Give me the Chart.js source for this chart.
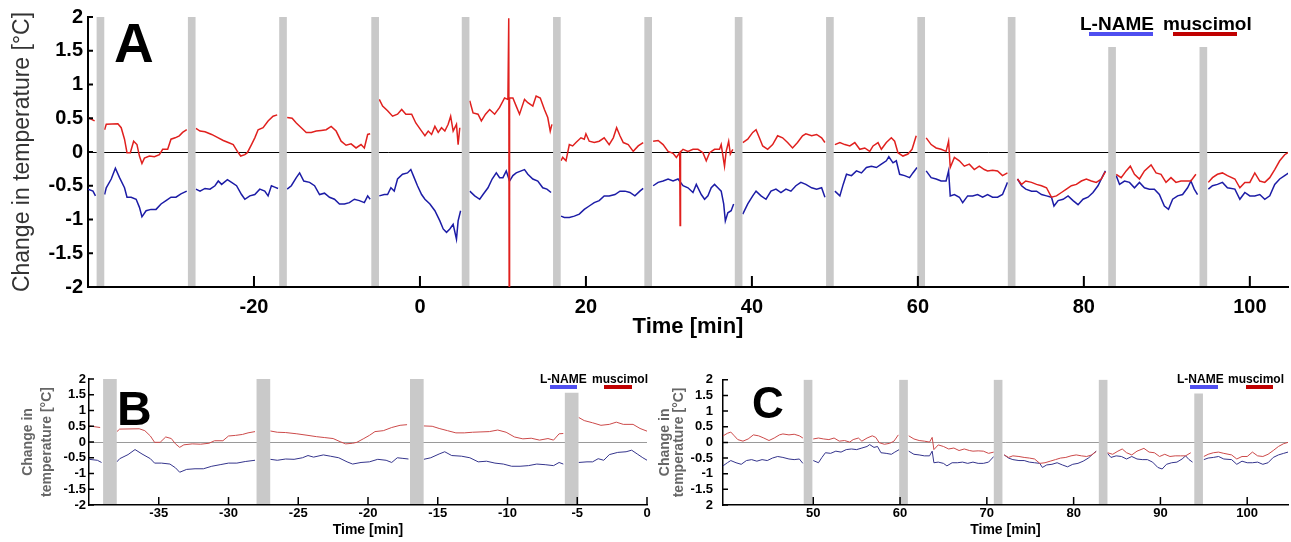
<!DOCTYPE html>
<html lang="en">
<head>
  <meta charset="UTF-8" />
  <title>Change in temperature - L-NAME / muscimol</title>
  <script src="https://cdn.jsdelivr.net/npm/chart.js"></script>
  <style>
    body { margin: 0; background: #fff; width: 1291px; height: 542px; overflow: hidden; position: relative; }
    .panel { position: absolute; }
    #boxA { left: 0; top: 0; width: 1291px; height: 345px; }
    #boxB { left: 0; top: 362px; width: 655px; height: 180px; }
    #boxC { left: 655px; top: 362px; width: 636px; height: 180px; }
  </style>
</head>
<body>
  <div class="panel" id="boxA"><canvas id="panelA"></canvas></div>
  <div class="panel" id="boxB"><canvas id="panelB"></canvas></div>
  <div class="panel" id="boxC"><canvas id="panelC"></canvas></div>

  <script>
    // values (minutes, degrees C); null = break under a grey band
    const seriesNames = ['L-NAME', 'muscimol'];

    const muscimolTime = [
      -40.0, -39.2, -38.5, -38.0, -37.8, -36.4, -36.0, -35.6, -35.3, -34.9,
      -34.5, -34.1, -33.8, -33.5, -33.2, -32.6, -32.0, -31.4, -31.0, -30.4,
      -30.0, -29.5, -29.0, -28.6, -28.1, -27.5, -27.0, -26.5, -25.9, -25.1,
      -24.3, -23.7, -23.1, -22.5, -22.0, -21.6, -21.1, -20.8, -20.3, -19.9,
      -19.5, -18.9, -18.3, -17.7, -17.2, -16.5, -16.0, -15.4, -14.9, -14.3,
      -13.7, -13.1, -12.5, -11.9, -11.3, -10.7, -10.1, -9.5, -8.9, -8.3,
      -7.7, -7.1, -6.7, -6.3, -6.0, -5.4, -4.9, -4.5, -3.9, -3.3,
      -2.7, -2.2, -1.7, -1.0, -0.5, 0.2, 0.6, 1.0, 1.4, 1.8,
      2.2, 2.6, 3.0, 3.4, 3.7, 4.0, 4.4, 4.6, 4.8, 5.5,
      6.0, 6.4, 7.0, 7.4, 7.9, 8.4, 9.0, 9.6, 10.2, 10.6,
      10.7, 10.75, 10.8, 11.2, 11.6, 12.0, 12.6, 13.0, 13.6, 14.0,
      14.5, 15.0, 15.4, 15.7, 15.9, 16.5, 17.0, 17.2, 17.6, 18.0,
      18.4, 18.8, 19.4, 19.8, 20.0, 20.4, 21.0, 21.6, 22.2, 22.8,
      23.3, 23.7, 24.1, 24.5, 25.1, 25.7, 26.3, 26.9, 27.5, 28.1,
      28.7, 29.3, 29.9, 30.5, 30.9, 31.3, 31.35, 31.4, 31.7, 32.3,
      32.9, 33.5, 34.1, 34.5, 34.9, 35.5, 36.1, 36.3, 36.7, 36.9,
      37.2, 37.4, 37.7, 38.4, 38.9, 39.5, 40.1, 40.5, 40.9, 41.3,
      41.9, 42.5, 43.1, 43.7, 44.3, 44.9, 45.5, 46.1, 46.5, 47.2,
      47.8, 48.4, 48.8, 49.4, 50.0, 50.6, 51.2, 51.8, 52.4, 53.0,
      53.6, 54.2, 54.6, 55.2, 55.6, 56.2, 56.8, 57.2, 57.6, 58.2,
      58.8, 59.3, 59.8, 60.4, 61.0, 61.6, 62.2, 62.8, 63.4, 63.7,
      63.9, 64.4, 65.0, 65.6, 66.2, 66.8, 67.4, 68.0, 68.4, 69.0,
      69.6, 70.2, 70.8, 71.3, 72.0, 72.5, 73.0, 73.7, 74.3, 74.9,
      75.5, 76.1, 76.7, 77.3, 77.9, 78.5, 79.1, 79.7, 80.3, 80.9,
      81.5, 82.1, 82.6, 83.4, 83.9, 84.5, 85.1, 85.6, 86.1, 86.7,
      87.3, 88.1, 88.7, 89.3, 89.9, 90.5, 91.1, 91.7, 92.3, 92.9,
      93.5, 94.4, 95.0, 95.5, 96.1, 96.7, 97.3, 98.2, 98.8, 99.4,
      100.0, 100.6, 101.2, 101.8, 102.4, 103.0, 103.6, 104.2, 104.7
    ];
    const muscimolTemp = [
      0.51, 0.46, null, 0.33, 0.41, 0.42, 0.36, 0.19, -0.01, -0.01,
      0.16, 0.11, -0.06, -0.17, -0.09, -0.06, -0.07, -0.04, 0.04, 0.04,
      0.19, 0.21, 0.24, 0.29, 0.33, null, 0.35, 0.31, 0.30, 0.26,
      0.21, 0.17, 0.14, 0.11, 0.01, -0.06, -0.04, -0.01, 0.11, 0.21,
      0.33, 0.36, 0.46, 0.53, 0.55, null, 0.51, 0.50, 0.43, 0.36,
      0.29, 0.29, 0.31, 0.32, 0.33, 0.38, 0.31, 0.16, 0.10, 0.12,
      0.06, 0.11, 0.06, 0.26, 0.27, null, 0.78, 0.68, 0.61, 0.53,
      0.56, 0.63, 0.56, 0.56, 0.43, 0.31, 0.24, 0.31, 0.26, 0.38,
      0.29, 0.36, 0.31, 0.41, 0.53, 0.31, 0.41, 0.11, 0.36, null,
      0.76, 0.58, 0.56, 0.46, 0.56, 0.63, 0.56, 0.66, 0.80, 0.78,
      1.98, -2.0, 0.80, 0.80, 0.68, 0.56, 0.78, 0.73, 0.68, 0.83,
      0.80, 0.63, 0.51, 0.31, 0.41, null, -0.13, -0.08, -0.13, 0.11,
      0.09, 0.14, 0.21, 0.19, 0.27, 0.16, 0.14, 0.16, 0.21, 0.11,
      0.21, 0.36, 0.24, 0.14, 0.11, 0.01, 0.09, 0.14, null, 0.16,
      0.17, 0.11, 0.01, -0.02, -0.08, -0.01, -1.09, 0.00, 0.04, 0.01,
      0.04, 0.04, -0.01, -0.13, -0.01, 0.04, 0.04, 0.11, -0.21, 0.01,
      0.16, -0.03, 0.04, null, 0.14, 0.19, 0.29, 0.33, 0.21, 0.09,
      0.04, 0.11, 0.24, 0.21, 0.14, 0.06, 0.14, 0.24, 0.27, 0.24,
      0.26, 0.21, 0.14, null, 0.11, 0.14, 0.11, 0.09, 0.14, 0.04,
      0.06, 0.01, 0.09, 0.14, 0.04, 0.14, 0.21, 0.16, -0.01, -0.06,
      -0.03, 0.04, 0.24, null, 0.21, 0.11, 0.06, 0.04, 0.01, 0.16,
      -0.23, -0.08, -0.13, -0.21, -0.18, -0.26, -0.21, -0.26, -0.28, -0.27,
      -0.28, -0.35, -0.31, null, -0.40, -0.48, -0.43, -0.45, -0.48, -0.50,
      -0.53, -0.67, -0.65, -0.60, -0.55, -0.50, -0.48, -0.43, -0.40, -0.43,
      -0.45, -0.40, -0.29, null, -0.33, -0.38, -0.28, -0.21, -0.33, -0.40,
      -0.28, -0.19, -0.31, -0.33, -0.45, -0.38, -0.45, -0.43, -0.43, -0.43,
      -0.33, null, -0.45, -0.38, -0.33, -0.31, -0.35, -0.40, -0.53, -0.45,
      -0.45, -0.31, -0.43, -0.45, -0.38, -0.26, -0.13, -0.04, 0.00
    ];

    const lnameTime = [
      -40.0, -39.4, -39.1, -38.5, -38.0, -37.8, -37.2, -36.7, -36.2, -35.6,
      -35.3, -34.8, -34.2, -33.8, -33.5, -33.0, -32.4, -31.8, -31.2, -30.6,
      -30.0, -29.4, -28.8, -28.1, -27.5, -27.0, -26.5, -25.9, -25.3, -24.7,
      -24.3, -23.9, -23.2, -22.7, -22.1, -21.5, -21.1, -20.5, -19.9, -19.3,
      -18.7, -18.3, -17.9, -17.5, -17.1, -16.5, -16.0, -15.5, -14.9, -14.5,
      -14.0, -13.3, -12.7, -12.1, -11.5, -10.9, -10.3, -9.7, -9.1, -8.5,
      -7.9, -7.3, -6.7, -6.3, -6.0, -5.4, -4.9, -4.3, -3.9, -3.5,
      -3.1, -2.7, -2.1, -1.5, -1.1, -0.7, -0.3, 0.2, 0.6, 1.2,
      1.8, 2.4, 2.8, 3.2, 3.6, 4.0, 4.4, 4.6, 4.9, 5.5,
      6.0, 6.6, 7.2, 7.6, 8.2, 8.7, 9.2, 9.6, 10.0, 10.4,
      10.8, 11.2, 11.6, 12.2, 12.6, 13.0, 13.6, 14.2, 14.8, 15.3,
      15.8, 16.5, 17.0, 17.4, 18.0, 18.6, 19.2, 19.8, 20.4, 21.0,
      21.6, 22.2, 22.8, 23.5, 24.1, 24.7, 25.3, 25.9, 26.5, 26.9,
      27.5, 28.1, 28.7, 29.3, 29.9, 30.5, 31.1, 31.7, 32.3, 32.9,
      33.3, 33.9, 34.3, 34.7, 35.1, 35.5, 35.9, 36.3, 36.6, 36.8,
      37.1, 37.5, 37.8, 38.4, 38.9, 39.5, 40.1, 40.5, 41.1, 41.7,
      42.3, 42.9, 43.5, 44.1, 44.7, 45.3, 45.9, 46.5, 47.2, 47.8,
      48.4, 48.8, 49.4, 50.0, 50.6, 51.0, 51.4, 52.0, 52.6, 53.2,
      53.8, 54.4, 55.0, 55.6, 56.2, 56.5, 57.0, 57.4, 57.8, 58.4,
      59.0, 59.4, 59.9, 60.4, 61.0, 61.6, 62.2, 62.8, 63.4, 63.7,
      63.9, 64.4, 65.0, 65.4, 66.0, 66.6, 67.2, 67.8, 68.4, 69.0,
      69.6, 70.2, 70.8, 71.3, 72.0, 72.5, 73.0, 73.7, 74.3, 74.9,
      75.5, 76.1, 76.4, 76.9, 77.5, 78.1, 78.7, 79.3, 79.9, 80.5,
      81.1, 81.7, 82.3, 82.6, 83.4, 83.9, 84.3, 84.9, 85.5, 86.1,
      86.7, 87.3, 87.9, 88.5, 89.1, 89.7, 90.2, 90.7, 91.3, 91.9,
      92.5, 92.9, 93.3, 93.7, 94.4, 95.0, 95.5, 96.1, 96.7, 97.3,
      98.2, 98.8, 99.4, 100.0, 100.6, 101.2, 101.8, 102.4, 103.0, 103.6,
      104.2, 104.7
    ];
    const lnameTemp = [
      -0.55, -0.58, -0.65, null, -0.63, -0.53, -0.40, -0.24, -0.38, -0.53,
      -0.67, -0.67, -0.70, -0.82, -0.96, -0.87, -0.85, -0.85, -0.77, -0.72,
      -0.67, -0.67, -0.62, -0.58, null, -0.55, -0.58, -0.54, -0.55, -0.50,
      -0.43, -0.48, -0.41, -0.45, -0.50, -0.63, -0.70, -0.65, -0.63, -0.55,
      -0.58, -0.65, -0.50, -0.52, -0.54, null, -0.55, -0.50, -0.38, -0.31,
      -0.43, -0.45, -0.50, -0.63, -0.61, -0.67, -0.70, -0.77, -0.77, -0.75,
      -0.70, -0.72, -0.75, -0.65, -0.70, null, -0.65, -0.63, -0.63, -0.53,
      -0.58, -0.40, -0.33, -0.31, -0.26, -0.38, -0.50, -0.63, -0.70, -0.77,
      -0.87, -1.02, -1.14, -1.19, -1.14, -1.07, -1.29, -1.02, -0.87, null,
      -0.58, -0.65, -0.70, -0.63, -0.53, -0.40, -0.31, -0.38, -0.38, -0.28,
      -0.43, -0.35, -0.31, -0.28, -0.26, -0.33, -0.40, -0.43, -0.53, -0.55,
      -0.60, null, -0.95, -0.97, -0.97, -0.95, -0.92, -0.85, -0.80, -0.75,
      -0.72, -0.65, -0.65, -0.63, -0.58, -0.58, -0.60, -0.65, -0.58, -0.54,
      null, -0.50, -0.45, -0.43, -0.40, -0.43, -0.40, -0.50, -0.53, -0.60,
      -0.48, -0.63, -0.70, -0.65, -0.53, -0.48, -0.53, -0.58, -0.77, -1.02,
      -0.90, -0.87, -0.77, null, -0.92, -0.77, -0.65, -0.58, -0.65, -0.70,
      -0.58, -0.55, -0.60, -0.55, -0.58, -0.50, -0.45, -0.48, -0.53, -0.55,
      -0.53, -0.67, null, -0.58, -0.65, -0.48, -0.33, -0.35, -0.28, -0.31,
      -0.23, -0.21, -0.23, -0.18, -0.13, -0.07, -0.16, -0.13, -0.33, -0.35,
      -0.38, -0.31, -0.23, null, -0.28, -0.38, -0.40, -0.43, -0.43, -0.28,
      -0.65, -0.63, -0.67, -0.75, -0.65, -0.65, -0.63, -0.67, -0.63, -0.67,
      -0.67, -0.63, -0.45, null, -0.40, -0.50, -0.55, -0.58, -0.58, -0.63,
      -0.65, -0.67, -0.80, -0.72, -0.70, -0.65, -0.72, -0.78, -0.70, -0.67,
      -0.60, -0.50, -0.35, -0.28, null, -0.35, -0.48, -0.43, -0.45, -0.53,
      -0.45, -0.53, -0.55, -0.55, -0.63, -0.80, -0.85, -0.70, -0.65, -0.63,
      -0.53, -0.43, -0.55, -0.63, null, -0.55, -0.50, -0.48, -0.45, -0.53,
      -0.55, -0.70, -0.60, -0.65, -0.65, -0.63, -0.70, -0.65, -0.48, -0.40,
      -0.35, -0.31
    ];

    // grey bands (centre in minutes) and their upper ends per panel
    const bandCentres = [-38.5, -27.5, -16.5, -5.4, 5.5, 16.5, 27.5, 38.4, 49.4, 60.4, 71.3, 83.4, 94.4];
    const bandTopsA = [2, 2, 2, 2, 2, 2, 2, 2, 2, 2, 2, 1.55, 1.55];
    const bandTopsB = [2, 2, 2, 1.55, 2, 2, 2, 2, 2, 2, 2, 2, 2];
    const bandTopsC = [2, 2, 2, 2, 2, 2, 2, 2, 2, 2, 2, 2, 1.55];

    // axis ticks
    const tempTicks = [-2, -1.5, -1, -0.5, 0, 0.5, 1, 1.5, 2];
    const tempLabels = ['-2', '-1.5', '-1', '-0.5', '0', '0.5', '1', '1.5', '2'];
    const tempLabelsC = ['2', '-1.5', '-1', '-0.5', '0', '0.5', '1', '1.5', '2'];
    const timeTicksA = [-20, 0, 20, 40, 60, 80, 100];
    const timeTicksB = [-35, -30, -25, -20, -15, -10, -5, 0];
    const timeTicksC = [50, 60, 70, 80, 90, 100];

    const FAMILY = "'Liberation Sans', Arial, Helvetica, sans-serif";

    // inward tick marks, panel letter and the little legend
    const panelMarks = {
      id: 'panelMarks',
      afterDatasetsDraw(chart, args, o) {
        const { ctx, chartArea: a, scales: { x, y } } = chart;
        ctx.save();
        ctx.strokeStyle = '#000';
        ctx.lineWidth = o.tickWidth;
        ctx.beginPath();
        x.ticks.forEach(t => {
          const px = x.getPixelForValue(t.value);
          ctx.moveTo(px, a.bottom);
          ctx.lineTo(px, a.bottom - o.xTickLen);
        });
        y.ticks.forEach(t => {
          const py = y.getPixelForValue(t.value);
          ctx.moveTo(a.left, py);
          ctx.lineTo(a.left + o.yTickLen, py);
        });
        ctx.stroke();

        ctx.fillStyle = '#000';
        ctx.textAlign = 'left';
        ctx.textBaseline = 'alphabetic';
        ctx.font = o.letterFont;
        ctx.fillText(o.letter, o.letterX, o.letterY);

        ctx.font = o.legendFont;
        ctx.fillText(seriesNames[0], o.lnameX, o.legendY);
        ctx.fillText(seriesNames[1], o.muscX, o.legendY);
        ctx.fillStyle = '#4f4ff0';
        ctx.fillRect(o.lnameKey[0], o.keyY, o.lnameKey[1] - o.lnameKey[0], o.keyH);
        ctx.fillStyle = '#c00000';
        ctx.fillRect(o.muscKey[0], o.keyY, o.muscKey[1] - o.muscKey[0], o.keyH);
        ctx.restore();
      }
    };

    function buildPanel(id, p) {
      return new Chart(document.getElementById(id), {
        type: 'line',
        data: {
          datasets: [
            {
              type: 'bar',
              data: bandCentres.map((t, i) => ({ x: t, y: [-2, p.bandTops[i]] })),
              backgroundColor: '#c9c9c9',
              borderWidth: 0,
              barThickness: p.bandPx,
              grouped: false,
              clip: { left: 0, top: 0, right: 0, bottom: -1 }
            },
            {
              label: seriesNames[1],
              data: muscimolTime.map((t, i) => ({ x: t, y: muscimolTemp[i] })),
              borderColor: p.red,
              borderWidth: p.lineW,
              pointRadius: 0,
              tension: 0
            },
            {
              label: seriesNames[0],
              data: lnameTime.map((t, i) => ({ x: t, y: lnameTemp[i] })),
              borderColor: p.blue,
              borderWidth: p.lineW,
              pointRadius: 0,
              tension: 0
            }
          ]
        },
        options: {
          responsive: true,
          maintainAspectRatio: false,
          animation: false,
          events: [],
          layout: { padding: p.pad },
          plugins: {
            legend: { display: false },
            tooltip: { enabled: false },
            panelMarks: p.marks
          },
          scales: {
            x: {
              type: 'linear',
              min: p.xMin,
              max: p.xMax,
              offset: false,
              afterBuildTicks: s => { s.ticks = p.xTicks.map(v => ({ value: v })); },
              afterFit: s => { s.height = p.xAxisH; },
              grid: { display: false, drawTicks: false },
              border: { display: true, color: '#000', width: p.axisW },
              ticks: {
                color: '#000', autoSkip: false, maxRotation: 0, padding: p.xTickPad,
                font: { family: FAMILY, size: p.tickSize, weight: 'bold' }
              },
              title: {
                display: true, text: 'Time [min]', color: '#000',
                font: { family: FAMILY, size: p.xTitleSize, weight: 'bold' },
                padding: { top: 0, bottom: p.xTitlePad }
              }
            },
            y: {
              min: -2,
              max: 2,
              afterBuildTicks: s => { s.ticks = tempTicks.map(v => ({ value: v })); },
              afterFit: s => { s.width = p.yAxisW; },
              grid: {
                drawTicks: false,
                lineWidth: 1,
                color: c => (c.tick && c.tick.value === 0 ? p.zeroColor : 'rgba(0,0,0,0)')
              },
              border: { display: true, color: '#000', width: p.axisW },
              ticks: {
                color: '#000', autoSkip: false, padding: p.yTickPad,
                font: { family: FAMILY, size: p.tickSize, weight: 'bold' },
                callback: (v, i) => p.yLabels[i]
              },
              title: {
                display: true, text: p.yTitle, color: p.yTitleColor,
                font: { family: FAMILY, size: p.yTitleSize, weight: p.yTitleWeight, lineHeight: p.yTitleLH },
                padding: { top: p.yTitlePad, bottom: 0 }
              }
            }
          }
        },
        plugins: [panelMarks]
      });
    }

    buildPanel('panelA', {
      bandTops: bandTopsA, bandPx: 7, red: '#e0201e', blue: '#1c1ca6', lineW: 1.5,
      pad: { left: 0, top: 16, right: 3, bottom: 0 },
      xMin: -40, xMax: 104.6, xTicks: timeTicksA, xAxisH: 58, xTickPad: 8, xTitlePad: 5,
      axisW: 2, tickSize: 20, xTitleSize: 22, yAxisW: 88, yTickPad: 5,
      zeroColor: '#000', yLabels: tempLabels,
      yTitle: 'Change in temperature [°C]', yTitleColor: '#333', yTitleSize: 23,
      yTitleWeight: 'normal', yTitleLH: 1.2, yTitlePad: 9,
      marks: {
        tickWidth: 2, xTickLen: 11, yTickLen: 5,
        letter: 'A', letterFont: 'bold 55px ' + FAMILY, letterX: 114, letterY: 62,
        legendFont: 'bold 19px ' + FAMILY, legendY: 30, lnameX: 1080, muscX: 1163,
        lnameKey: [1089, 1153], muscKey: [1173, 1237], keyY: 32, keyH: 4
      }
    });

    buildPanel('panelB', {
      bandTops: bandTopsB, bandPx: 13, red: '#cc4a4a', blue: '#34348c', lineW: 1,
      pad: { left: 0, top: 17, right: 8, bottom: 0 },
      xMin: -40, xMax: 0, xTicks: timeTicksB, xAxisH: 37, xTickPad: 1, xTitlePad: 3,
      axisW: 1.5, tickSize: 13, xTitleSize: 14, yAxisW: 89, yTickPad: 3,
      zeroColor: '#9a9a9a', yLabels: tempLabels,
      yTitle: ['Change in', 'temperature [°C]'], yTitleColor: '#666', yTitleSize: 14,
      yTitleWeight: 'bold', yTitleLH: 1.4, yTitlePad: 18,
      marks: {
        tickWidth: 1.5, xTickLen: 8, yTickLen: 5,
        letter: 'B', letterFont: 'bold 48px ' + FAMILY, letterX: 117, letterY: 63,
        legendFont: 'bold 12px ' + FAMILY, legendY: 21, lnameX: 540, muscX: 592,
        lnameKey: [550, 577], muscKey: [604, 632], keyY: 23, keyH: 4
      }
    });

    buildPanel('panelC', {
      bandTops: bandTopsC, bandPx: 8, red: '#cc4a4a', blue: '#34348c', lineW: 1,
      pad: { left: 0, top: 17, right: 3, bottom: 0 },
      xMin: 39.6, xMax: 104.7, xTicks: timeTicksC, xAxisH: 37, xTickPad: 1, xTitlePad: 3,
      axisW: 1.5, tickSize: 13, xTitleSize: 14, yAxisW: 68, yTickPad: 10,
      zeroColor: '#9a9a9a', yLabels: tempLabelsC,
      yTitle: ['Change in', 'temperature [°C]'], yTitleColor: '#666', yTitleSize: 14,
      yTitleWeight: 'bold', yTitleLH: 1.0, yTitlePad: 3,
      marks: {
        tickWidth: 1.5, xTickLen: 8, yTickLen: 5,
        letter: 'C', letterFont: 'bold 44px ' + FAMILY, letterX: 97, letterY: 56,
        legendFont: 'bold 12px ' + FAMILY, legendY: 21, lnameX: 522, muscX: 573,
        lnameKey: [535, 563], muscKey: [591, 618], keyY: 23, keyH: 4
      }
    });
  </script>
</body>
</html>
